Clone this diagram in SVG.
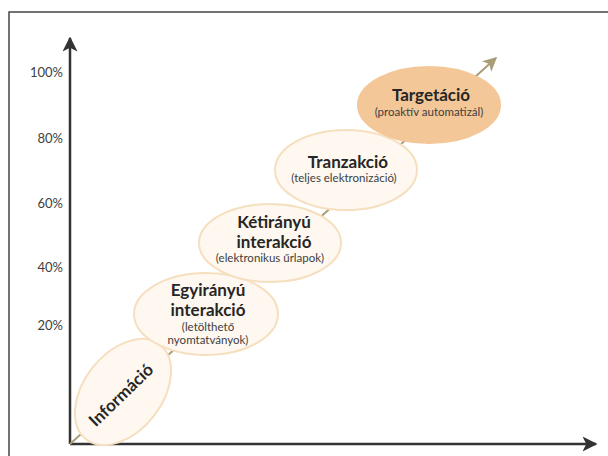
<svg xmlns="http://www.w3.org/2000/svg" width="608" height="456" viewBox="0 0 608 456">
  <defs>
    <marker id="axisHead" viewBox="0 0 10 10" refX="9" refY="5" markerWidth="6" markerHeight="6" markerUnits="strokeWidth" orient="auto">
      <path d="M0,0 L10,5 L0,10 L2.5,5 Z" fill="#333333"/>
    </marker>
    <marker id="trendHead" viewBox="0 0 10 10" refX="9" refY="5" markerWidth="7" markerHeight="7" markerUnits="strokeWidth" orient="auto">
      <path d="M0,0 L10,5 L0,10 L2.5,5 Z" fill="#a99d76"/>
    </marker>
    <style>
      .frame { fill: none; stroke: #444444; stroke-width: 1.5; }
      .axis { fill: none; stroke: #333333; stroke-width: 2.5; }
      .trend { fill: none; stroke: #a99d76; stroke-width: 2; }
      .tick { font-family: Lato, "Liberation Sans", sans-serif; font-size: 13px; fill: #404040; text-anchor: end; }
      .stage { fill: #fef8f0; stroke: #f6dfbf; stroke-width: 2; }
      .stage.active { fill: #f3c797; stroke: #f3c797; }
      .title { font-family: Lato, "Liberation Sans", sans-serif; font-size: 17px; font-weight: bold; fill: #262626; text-anchor: middle; }
      .sub { font-family: Lato, "Liberation Sans", sans-serif; font-size: 11.5px; fill: #404040; text-anchor: middle; }
    </style>
  </defs>

  <rect x="9" y="12" width="620" height="460" class="frame"/>

  <!-- axes and trend line -->
  <g id="connectors">
    <line x1="70" y1="444" x2="70" y2="38" class="axis" marker-end="url(#axisHead)"/>
    <line x1="70" y1="444" x2="596" y2="444" class="axis" marker-end="url(#axisHead)"/>
    <line x1="70" y1="444" x2="496" y2="58" class="trend" marker-end="url(#trendHead)"/>
  </g>

  <g id="ticks">
    <text x="63" y="77" class="tick">100%</text>
    <text x="63" y="143" class="tick">80%</text>
    <text x="63" y="208" class="tick">60%</text>
    <text x="63" y="272" class="tick">40%</text>
    <text x="63" y="330" class="tick">20%</text>
  </g>

  <g id="informacio">
    <ellipse cx="123" cy="392" rx="60" ry="39" transform="rotate(-52 123 392)" class="stage"/>
    <text x="121" y="401" class="title" transform="rotate(-44 121 395)">Információ</text>
  </g>

  <g id="egyiranyu">
    <ellipse cx="206" cy="314" rx="72" ry="41" class="stage"/>
    <text x="208" y="296" class="title">Egyirányú</text>
    <text x="208" y="316" class="title">interakció</text>
    <text x="208" y="331" class="sub">(letölthető</text>
    <text x="208" y="344" class="sub">nyomtatványok)</text>
  </g>

  <g id="ketiranyu">
    <ellipse cx="270" cy="243" rx="71" ry="39" class="stage"/>
    <text x="274" y="228" class="title">Kétirányú</text>
    <text x="274" y="248" class="title">interakció</text>
    <text x="270" y="262" class="sub">(elektronikus űrlapok)</text>
  </g>

  <g id="tranzakcio">
    <ellipse cx="346" cy="170" rx="71" ry="40" class="stage"/>
    <text x="348" y="168" class="title">Tranzakció</text>
    <text x="344" y="182" class="sub">(teljes elektronizáció)</text>
  </g>

  <g id="targetacio">
    <ellipse cx="429" cy="105" rx="71" ry="38" class="stage active"/>
    <text x="431" y="101" class="title">Targetáció</text>
    <text x="429" y="116" class="sub">(proaktív automatizál)</text>
  </g>
</svg>
